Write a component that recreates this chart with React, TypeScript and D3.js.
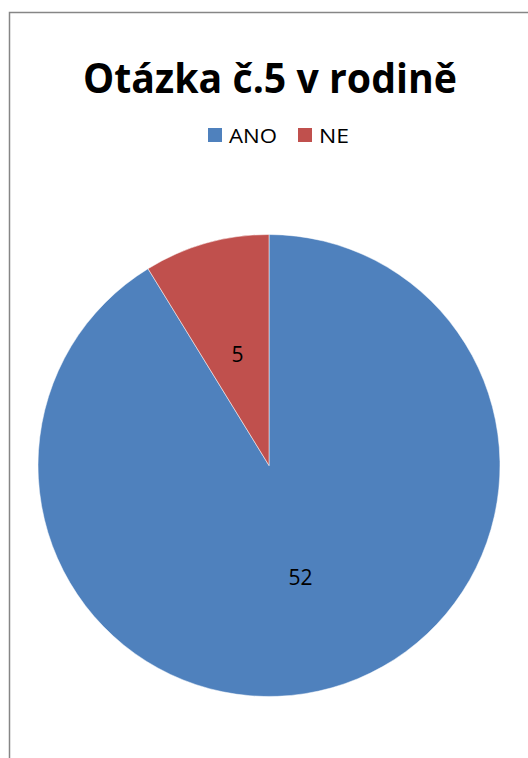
import React from "react";
import * as d3 from "d3";

const categories = ["ANO", "NE"];
const values = [52, 5];
const colors = ["#4F81BD", "#C0504D"];
const title = "Otázka č.5 v rodině";

export default function App() {
  const W = 528, H = 758;
  const cx = 269, cy = 465.5, r = 231;
  const data = categories.map((c, i) => ({ c, v: values[i], color: colors[i] }));
  const pie = d3.pie<any>().sort(null).value((d) => d.v);
  const arcs = pie(data);
  const arc = d3.arc<any>().innerRadius(0).outerRadius(r);
  const labelArc = d3.arc<any>().innerRadius(r * 0.5).outerRadius(r * 0.5);
  const font = "'Open Sans', 'Noto Sans', sans-serif";
  return (
    <svg width={W} height={H} style={{ position: "absolute", left: 0, top: 0, background: "#fff" }}>
      <rect x={0} y={0} width={W} height={H} fill="#fff" />
      <path d={`M9.5,${H} V12.5 H${W}`} fill="none" stroke="#868686" strokeWidth={1.5} />
      <text x={270} y={93} textAnchor="middle" fontFamily={font} fontWeight="bold" fontSize={42}
        textLength={374} lengthAdjust="spacingAndGlyphs" fill="#000">{title}</text>
      {data.map((d, i) => {
        const lx = [208, 298][i];
        const tw = [48, 30][i];
        return (
          <g key={d.c}>
            <rect x={lx} y={128} width={14} height={14} fill={d.color} />
            <text x={lx + 21} y={142.5} fontFamily={font} fontSize={20} fill="#000"
              textLength={tw} lengthAdjust="spacingAndGlyphs">{d.c}</text>
          </g>
        );
      })}
      <g transform={`translate(${cx},${cy})`}>
        {arcs.map((a, i) => (
          <path key={i} d={arc(a) as string} fill={a.data.color} stroke="#fff" strokeWidth={0.5} />
        ))}
        {arcs.map((a, i) => {
          const [x, y] = labelArc.centroid(a);
          return (
            <text key={"l" + i} x={x} y={y} textAnchor="middle" dominantBaseline="central"
              fontFamily={font} fontSize={21} fill="#000">{a.data.v}</text>
          );
        })}
      </g>
    </svg>
  );
}
